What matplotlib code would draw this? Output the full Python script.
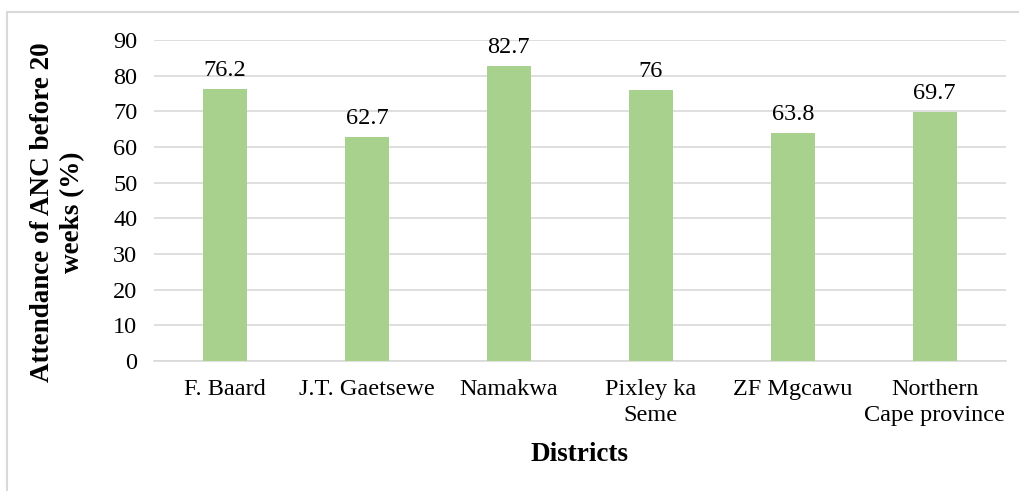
import matplotlib.pyplot as plt
from matplotlib.patches import Rectangle

# data
districts = ['F. Baard', 'J.T. Gaetsewe', 'Namakwa', 'Pixley ka\nSeme',
             'ZF Mgcawu', 'Northern\nCape province']
attendance = [76.2, 62.7, 82.7, 76, 63.8, 69.7]
value_labels = ['76.2', '62.7', '82.7', '76', '63.8', '69.7']
yticks = [0, 10, 20, 30, 40, 50, 60, 70, 80, 90]

plt.rcParams['font.family'] = ['Liberation Serif', 'DejaVu Serif']

fig = plt.figure(figsize=(10.2, 4.91), dpi=100)
ax = fig.add_axes([0.151, 0.265, 0.835, 0.6535])

x = range(len(districts))
bars = ax.bar(x, attendance, width=0.31, color='#a9d18e', zorder=3)

# value labels above each bar
for b, lab in zip(bars, value_labels):
    ax.annotate(lab, (b.get_x() + b.get_width() / 2, b.get_height()),
                xytext=(0, 6), textcoords='offset points',
                ha='center', va='bottom', fontsize=17.5)

ax.set_ylim(0, 90)
ax.set_xlim(-0.5, len(districts) - 0.5)
ax.set_yticks(yticks)
ax.set_xticks(list(x))
ax.set_xticklabels(districts, fontsize=17.5, linespacing=1.3)
ax.tick_params(axis='y', labelsize=17.5, length=0, pad=12)
ax.tick_params(axis='x', length=0, pad=13)
ax.yaxis.grid(True, color='#d9d9d9', linewidth=1.2, zorder=0)

for s in ['top', 'right', 'left']:
    ax.spines[s].set_visible(False)
ax.spines['bottom'].set_color('#d9d9d9')
ax.spines['bottom'].set_linewidth(1.2)

ax.set_xlabel('Districts', fontsize=19.5, fontweight='bold', labelpad=12)
ax.set_ylabel('Attendance of ANC before 20\nweeks (%)', fontsize=19.5,
              fontweight='bold', linespacing=1.25)
ax.yaxis.set_label_coords(-0.081, 0.464)

# outer chart frame (only top and left edges fall inside the image)
fig.patches.append(Rectangle((7 / 1020, -0.1), 1.2, 1.1 - 12 / 491,
                             transform=fig.transFigure, fill=False,
                             edgecolor='#d9d9d9', linewidth=1.5))

fig.savefig('out.png', dpi=100)
